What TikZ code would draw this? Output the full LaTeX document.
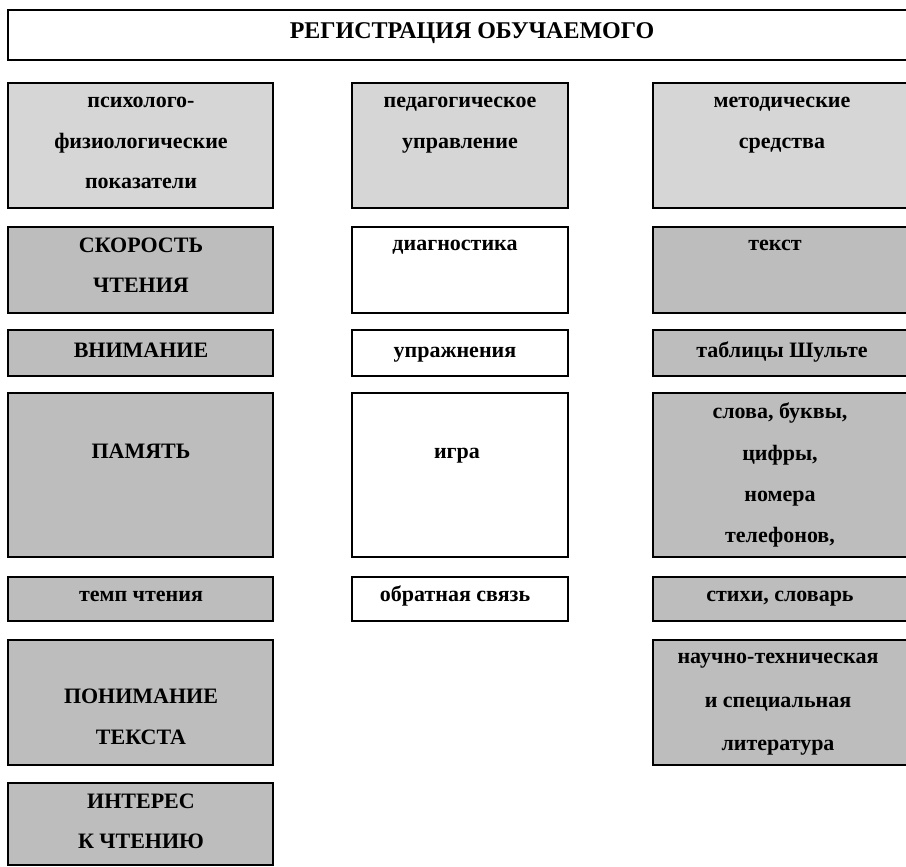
\documentclass[tikz,border=0pt]{standalone}
\usepackage{fontspec}
\setmainfont{Liberation Serif}
\definecolor{lightfill}{gray}{0.84}
\definecolor{darkfill}{gray}{0.74}
\tikzset{
  x=1pt, y=-1pt,
  box/.style={draw=black, line width=2.6pt, rectangle, inner sep=0pt},
  hbox/.style={box, fill=lightfill},
  gbox/.style={box, fill=darkfill},
  wbox/.style={box, fill=white},
  lbl/.style={anchor=base, inner sep=0pt, font=\bfseries\fontsize{22}{26}\selectfont},
  ttl/.style={anchor=base, inner sep=0pt, font=\bfseries\fontsize{24}{28}\selectfont},
}
\begin{document}
\begin{tikzpicture}
\useasboundingbox (0,0) rectangle (906,867);
% title
\node[wbox, minimum width=907, minimum height=50] (title) at (461.5,35) {};
\node[ttl] (titletext) at (472,39) {РЕГИСТРАЦИЯ ОБУЧАЕМОГО};

% header row
\node[hbox, minimum width=265, minimum height=125] (h1) at (140.5,145.5) {};
\node[hbox, minimum width=216, minimum height=125] (h2) at (460,145.5) {};
\node[hbox, minimum width=260, minimum height=125] (h3) at (783,145.5) {};
\node[lbl] (h1a) at (141,107) {психолого-};
\node[lbl] (h1b) at (141,148) {физиологические};
\node[lbl] (h1c) at (141,188) {показатели};
\node[lbl] (h2a) at (460,107) {педагогическое};
\node[lbl] (h2b) at (460,148) {управление};
\node[lbl] (h3a) at (782,107) {методические};
\node[lbl] (h3b) at (782,148) {средства};

% row 2
\node[gbox, minimum width=265, minimum height=86] (l2) at (140.5,270) {};
\node[wbox, minimum width=216, minimum height=86] (m2) at (460,270) {};
\node[gbox, minimum width=260, minimum height=86] (r2) at (783,270) {};
\node[lbl] (l2a) at (141,252) {СКОРОСТЬ};
\node[lbl] (l2b) at (141,292) {ЧТЕНИЯ};
\node[lbl] (m2a) at (455,250) {диагностика};
\node[lbl] (r2a) at (775,250) {текст};

% row 3
\node[gbox, minimum width=265, minimum height=46] (l3) at (140.5,353) {};
\node[wbox, minimum width=216, minimum height=46] (m3) at (460,353) {};
\node[gbox, minimum width=260, minimum height=46] (r3) at (783,353) {};
\node[lbl] (l3a) at (141,357) {ВНИМАНИЕ};
\node[lbl] (m3a) at (455,357) {упражнения};
\node[lbl] (r3a) at (782,357) {таблицы Шульте};

% row 4
\node[gbox, minimum width=265, minimum height=164] (l4) at (140.5,475) {};
\node[wbox, minimum width=216, minimum height=164] (m4) at (460,475) {};
\node[gbox, minimum width=260, minimum height=164] (r4) at (783,475) {};
\node[lbl] (l4a) at (141,458) {ПАМЯТЬ};
\node[lbl] (m4a) at (457,458) {игра};
\node[lbl] (r4a) at (780,418) {слова, буквы,};
\node[lbl] (r4b) at (780,460) {цифры,};
\node[lbl] (r4c) at (780,501) {номера};
\node[lbl] (r4d) at (780,542) {телефонов,};

% row 5
\node[gbox, minimum width=265, minimum height=44] (l5) at (140.5,599) {};
\node[wbox, minimum width=216, minimum height=44] (m5) at (460,599) {};
\node[gbox, minimum width=260, minimum height=44] (r5) at (783,599) {};
\node[lbl] (l5a) at (141,601) {темп чтения};
\node[lbl] (m5a) at (455,601) {обратная связь};
\node[lbl] (r5a) at (780,601) {стихи, словарь};

% row 6
\node[gbox, minimum width=265, minimum height=125] (l6) at (140.5,702.5) {};
\node[gbox, minimum width=260, minimum height=125] (r6) at (783,702.5) {};
\node[lbl] (l6a) at (141,703) {ПОНИМАНИЕ};
\node[lbl] (l6b) at (141,744) {ТЕКСТА};
\node[lbl] (r6a) at (778,663) {научно-техническая};
\node[lbl] (r6b) at (778,707) {и специальная};
\node[lbl] (r6c) at (778,750) {литература};

% row 7
\node[gbox, minimum width=265, minimum height=82] (l7) at (140.5,824) {};
\node[lbl] (l7a) at (141,808) {ИНТЕРЕС};
\node[lbl] (l7b) at (141,848) {К ЧТЕНИЮ};
\end{tikzpicture}
\end{document}
